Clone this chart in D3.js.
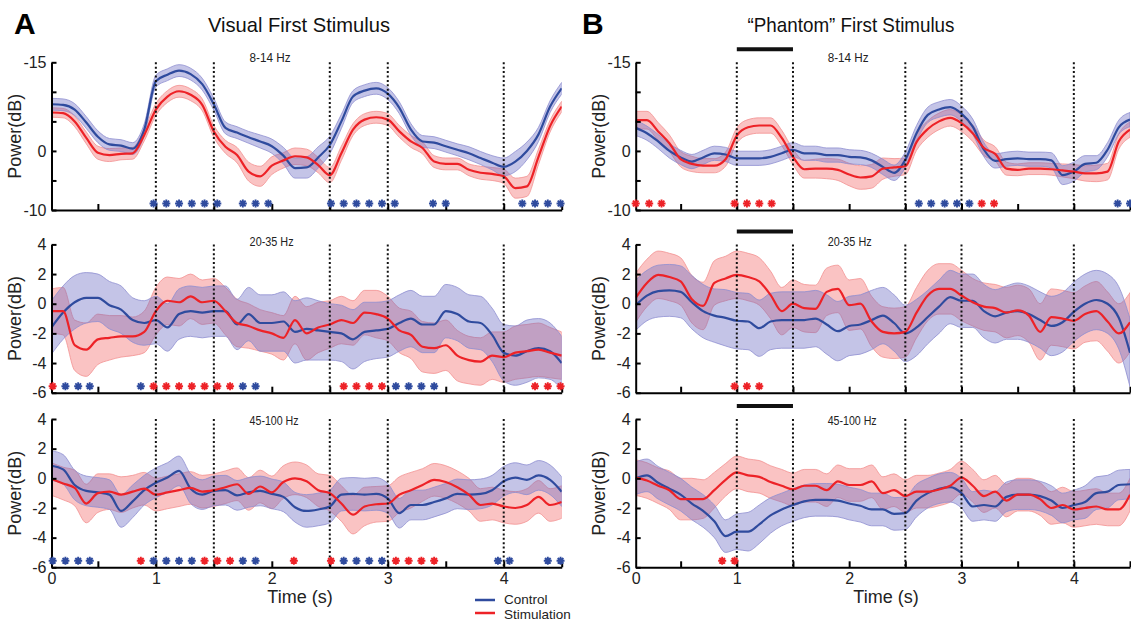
<!DOCTYPE html>
<html><head><meta charset="utf-8">
<script src="https://cdn.jsdelivr.net/npm/d3@7"></script>
<style>
body{margin:0;background:#fff;}
svg{display:block;font-family:"Liberation Sans",Arial,sans-serif;}
</style></head>
<body><svg id="chart" width="1131" height="621"></svg>
<script>
// ---------------- DATA ----------------
const time = [0.1,0.2,0.3,0.4,0.5,0.6,0.7,0.8,0.9,1.0,1.1,1.2,1.3,1.4,1.5,1.6,1.7,1.8,1.9,2.0,2.1,2.2,2.3,2.4,2.5,2.6,2.7,2.8,2.9,3.0,3.1,3.2,3.3,3.4,3.5,3.6,3.7,3.8,3.9,4.0,4.1,4.2,4.3,4.4,4.5];

// Panel A (Visual First Stimulus)
const A_alpha_ctrl = [7.9,7.8,7.0,4.8,2.4,1.1,0.9,0.4,3.6,11.8, 12.9,13.6,13.0,11.3,7.9,3.9,3.1,2.3,1.6,0.8, -0.8,-2.9,-2.8,-1.1,1.0,5.0,9.2,10.2,10.6,9.7, 7.3,3.6,1.6,1.4,0.8,0.2,-0.4,-1.2,-2.0,-2.7, -1.8,0.0,2.8,7.5,10.6];
const A_alpha_ctrlErr = [1.0,1.0,1.0,1.0,1.0,1.0,1.0,1.0,1.0,1.0, 1.0,1.0,1.0,1.0,1.0,1.0,1.0,1.0,1.1,1.2, 1.4,1.7,1.8,1.8,1.5,1.2,1.0,1.0,1.0,1.0, 1.0,1.0,1.0,1.0,1.0,1.0,1.1,1.1,1.2,1.5, 1.7,1.5,1.2,1.0,1.0];
const A_alpha_stim = [6.5,6.4,5.0,2.2,-0.3,-0.7,-0.5,-0.4,2.7,7.0, 9.2,10.1,9.5,7.8,3.3,0.7,-0.7,-3.5,-4.3,-2.5, -1.6,-0.9,-1.1,-2.4,-4.1,-0.4,3.6,5.3,5.7,5.3, 3.3,1.6,0.5,-1.8,-2.2,-2.2,-3.2,-3.7,-3.9,-4.3, -6.3,-6.0,-1.0,4.2,7.5];
const A_alpha_stimErr = [0.8,0.8,0.9,1.0,1.1,1.1,1.0,1.0,1.0,1.0, 1.0,1.0,1.0,1.0,1.0,1.1,1.3,1.6,1.7,1.5, 1.3,1.4,1.4,1.3,1.3,1.2,1.0,1.0,1.0,1.0, 1.0,1.0,1.0,1.0,1.0,1.0,1.0,1.1,1.1,1.2, 1.7,1.7,1.3,1.0,0.9];

const A_beta_ctrl = [-1.6,-0.6,0.1,0.4,0.4,-0.1,-0.4,-1.1,-1.3,-1.1, -1.6,-0.7,-0.5,-0.6,-0.5,-0.5,-1.4,-0.7,-1.3,-1.3, -1.2,-1.9,-1.7,-1.8,-1.9,-2.0,-2.4,-1.9,-1.8,-1.7, -1.3,-1.0,-1.4,-1.4,-0.5,-0.7,-1.2,-1.3,-2.1,-3.3, -3.5,-3.2,-3.0,-3.2,-4.0];
const A_beta_ctrlErr = [1.8,1.8,1.8,1.7,1.6,1.6,1.6,1.5,1.5,1.6, 1.6,1.7,1.7,1.7,1.7,1.7,1.7,1.8,1.9,1.9, 2.0,2.1,2.1,2.0,1.9,1.9,2.0,2.0,1.9,1.9, 1.9,1.9,1.9,1.9,1.8,1.8,1.8,1.8,1.8,1.9, 2.0,2.1,2.0,1.9,1.8];
const A_beta_stim = [-0.5,-0.5,-2.8,-3.1,-2.4,-2.3,-2.2,-2.2,-1.9,-0.5, 0.2,0.1,0.5,0.1,0.2,-0.5,-1.3,-1.5,-1.8,-2.0, -2.3,-1.1,-2.0,-1.6,-1.4,-1.1,-1.3,-0.6,-0.7,-1.0, -1.8,-2.1,-2.9,-3.0,-2.8,-3.5,-3.8,-3.9,-3.5,-3.6, -3.3,-3.2,-3.1,-3.3,-3.5];
const A_beta_stimErr = [1.5,1.6,1.7,1.8,1.7,1.5,1.4,1.3,1.4,1.6, 1.6,1.6,1.5,1.5,1.5,1.6,1.6,1.5,1.4,1.4, 1.5,1.6,1.8,1.7,1.6,1.6,1.5,1.5,1.6,1.5, 1.5,1.6,1.7,1.7,1.7,1.7,1.6,1.6,1.6,1.7, 1.8,1.8,1.8,1.7,1.6];

const A_gamma_ctrl = [0.85,0.6,-0.45,-0.85,-0.95,-1.1,-2.2,-1.55,-0.8,-0.3, 0.05,0.5,-0.7,-1.1,-0.85,-0.8,-1.15,-0.95,-0.85,-1.05, -1.25,-1.95,-2.2,-2.1,-1.9,-1.1,-1.05,-1.1,-1.05,-1.35, -2.35,-1.8,-1.8,-1.6,-1.35,-1.05,-1.1,-1.05,-0.8,-0.2, 0.05,-0.1,0.2,-0.1,-0.9];
const A_gamma_ctrlErr = [1.0,1.0,1.0,1.0,1.0,1.0,1.1,1.1,1.0,1.0, 1.0,1.0,1.0,1.0,1.0,1.0,1.0,1.0,1.0,1.0, 1.0,1.0,1.1,1.1,1.1,1.1,1.1,1.1,1.1,1.0, 1.0,1.0,1.0,1.0,1.0,1.0,1.0,1.0,1.0,1.0, 1.0,1.0,1.0,1.0,1.0];
const A_gamma_stim = [-0.05,-0.35,-0.65,-1.7,-1.0,-0.9,-1.1,-0.9,-0.7,-1.1, -0.95,-0.8,-0.65,-0.9,-0.8,-0.6,-0.4,-1.05,-0.55,-0.95, -0.25,0.0,-0.2,-0.8,-1.0,-1.7,-2.45,-1.9,-1.75,-1.7, -1.1,-0.8,-0.45,-0.1,-0.25,-0.6,-1.1,-1.8,-1.7,-1.9, -2.0,-1.8,-1.25,-1.8,-1.6];
const A_gamma_stimErr = [1.1,1.1,1.2,1.3,1.3,1.2,1.2,1.1,1.1,1.1, 1.1,1.1,1.1,1.1,1.1,1.1,1.1,1.1,1.1,1.1, 1.1,1.1,1.1,1.1,1.2,1.2,1.3,1.3,1.2,1.2, 1.2,1.2,1.1,1.1,1.1,1.1,1.1,1.1,1.1,1.1, 1.1,1.1,1.1,1.1,1.1];

// Panel B ("Phantom" First Stimulus)
const B_alpha_ctrl = [3.9,3.0,1.6,0.0,-1.1,-1.8,-1.1,-0.4,-0.6,-1.25, -1.25,-1.25,-1.0,-0.4,0.2,-0.4,-0.4,-0.7,-0.7,-1.0, -1.1,-1.6,-2.7,-3.7,-1.5,3.0,6.1,7.0,7.4,6.3, 4.1,0.2,-1.7,-1.4,-1.25,-1.4,-1.4,-1.6,-4.1,-3.5, -2.2,-2.0,0.2,4.0,5.3];
const B_alpha_ctrlErr = [1.3,1.2,1.2,1.2,1.2,1.2,1.2,1.2,1.2,1.2, 1.2,1.2,1.2,1.2,1.2,1.2,1.2,1.2,1.2,1.2, 1.2,1.2,1.3,1.3,1.3,1.3,1.3,1.3,1.3,1.3, 1.3,1.2,1.2,1.2,1.2,1.2,1.2,1.3,1.6,1.6, 1.4,1.2,1.2,1.2,1.2];
const B_alpha_stim = [5.2,5.2,3.3,1.3,-1.4,-2.2,-2.5,-2.5,-1.4,2.6, 4.0,4.3,4.3,2.2,-1.0,-3.1,-3.0,-3.0,-3.2,-4.0, -4.5,-4.3,-3.0,-2.8,-2.6,1.5,3.7,5.0,5.6,4.7, 3.0,0.5,-0.5,-3.0,-3.2,-3.0,-3.0,-3.1,-3.3,-3.5, -3.8,-3.8,-3.5,1.6,3.6];
const B_alpha_stimErr = [1.5,1.5,1.5,1.4,1.3,1.3,1.2,1.2,1.2,1.3, 1.3,1.3,1.3,1.3,1.3,1.5,1.6,1.7,1.8,1.9, 2.0,2.0,1.8,1.5,1.4,1.4,1.4,1.4,1.4,1.4, 1.4,1.3,1.2,1.1,1.0,1.0,1.0,1.0,1.1,1.2, 1.3,1.4,1.4,1.3,1.3];

const B_beta_ctrl = [-0.1,0.55,0.85,0.9,0.8,0.1,-0.5,-0.8,-0.95,-1.15, -1.2,-1.65,-1.2,-1.1,-1.1,-1.1,-1.0,-1.4,-1.85,-1.5, -1.4,-1.1,-0.8,-1.3,-2.0,-1.6,-0.9,-0.2,0.45,0.2, 0.2,-0.5,-0.85,-0.6,-0.5,-0.7,-1.1,-1.5,-1.25,-0.55, 0.0,0.25,0.0,-0.95,-3.3];
const B_beta_ctrlErr = [1.7,1.7,1.75,1.75,1.75,1.8,1.8,1.8,1.9,1.9, 1.9,1.9,1.9,1.9,1.9,1.9,1.9,2.0,2.0,2.0, 2.0,2.0,1.9,1.9,1.9,1.9,1.8,1.8,1.8,1.8, 1.8,1.8,1.8,1.8,1.9,1.9,1.9,2.0,2.0,2.0, 2.0,2.0,2.0,2.1,2.3];
const B_beta_stim = [0.4,1.4,1.95,1.8,1.5,0.3,-0.15,1.4,1.7,1.95, 1.8,1.5,0.6,-0.5,0.0,-0.3,-0.35,0.8,1.0,-0.1, 0.0,-1.2,-1.9,-2.0,-1.9,-0.6,0.55,1.0,1.0,0.55, 0.1,-0.2,-0.3,-0.6,-0.45,-0.8,-1.9,-0.9,-1.0,-1.15, -0.7,-0.5,-1.2,-2.0,-1.25];
const B_beta_stimErr = [1.65,1.6,1.6,1.6,1.6,1.6,1.6,1.5,1.5,1.6, 1.6,1.6,1.6,1.6,1.6,1.6,1.6,1.6,1.6,1.7, 1.7,1.7,1.7,1.7,1.7,1.7,1.7,1.7,1.7,1.7, 1.6,1.6,1.6,1.7,1.7,1.8,1.9,1.9,1.9,1.9, 1.9,2.0,2.0,2.0,2.0];

const B_gamma_ctrl = [0.0,0.2,-0.3,-0.7,-1.1,-1.7,-2.2,-2.9,-3.9,-3.6, -3.6,-3.1,-2.5,-2.1,-1.8,-1.55,-1.45,-1.45,-1.5,-1.7, -1.85,-2.1,-2.1,-2.4,-2.35,-1.5,-1.0,-0.7,-0.6,-1.0, -1.9,-1.8,-1.9,-1.25,-1.1,-1.1,-1.2,-1.5,-2.0,-1.8, -1.6,-1.0,-0.9,-0.45,-0.4];
const B_gamma_ctrlErr = [1.1,1.1,1.1,1.1,1.1,1.1,1.1,1.1,1.1,1.2, 1.3,1.3,1.2,1.1,1.1,1.1,1.1,1.1,1.1,1.1, 1.1,1.1,1.1,1.1,1.1,1.1,1.0,1.0,1.0,1.0, 1.0,1.0,1.0,1.0,1.0,1.0,1.0,1.0,1.0,1.0, 1.1,1.1,1.1,1.0,1.0];
const B_gamma_stim = [0.05,-0.15,-0.5,-0.8,-1.4,-1.4,-1.4,-0.8,-0.1,0.4, 0.2,0.1,-0.25,-0.5,-0.75,-0.5,-0.5,-0.8,-0.2,-0.45, -0.45,-0.2,-1.0,-0.8,-1.2,-0.9,-0.9,-0.75,-0.5,0.05, -0.5,-1.2,-0.9,-1.5,-1.1,-1.1,-1.4,-2.0,-1.8,-2.1, -2.0,-1.9,-2.1,-2.1,-1.1];
const B_gamma_stimErr = [1.2,1.2,1.2,1.3,1.4,1.4,1.3,1.2,1.1,1.1, 1.1,1.1,1.1,1.1,1.1,1.1,1.1,1.1,1.1,1.1, 1.1,1.1,1.1,1.1,1.1,1.1,1.1,1.1,1.1,1.1, 1.1,1.1,1.1,1.1,1.1,1.1,1.1,1.1,1.2,1.2, 1.2,1.2,1.1,1.1,1.1];

// significance markers (time of each asterisk), blue = control, red = stimulation
const A_alpha_starsBlue = [0.98,1.09,1.2,1.31,1.42,1.53,1.75,1.86,1.97,2.51,2.62,2.73,2.84,2.95,3.06,3.39,3.5,4.16,4.27,4.38,4.49];
const A_alpha_starsRed = [];
const A_beta_starsBlue = [0.22,0.33,0.43,0.87,1.75,1.86,3.07,3.18,3.29,3.4];
const A_beta_starsRed = [0.11,0.98,1.09,1.2,1.31,1.42,1.53,1.64,2.62,2.73,2.84,2.95,4.27,4.38,4.49];
const A_gamma_starsBlue = [0.11,0.22,0.33,0.43,0.98,1.09,1.2,1.31,1.75,1.86,2.62,2.73,2.84,2.95,3.95,4.05,4.38,4.49];
const A_gamma_starsRed = [0.87,1.42,1.53,1.64,2.19,2.51,3.07,3.18,3.29,3.4];
const B_alpha_starsBlue = [2.62,2.73,2.85,2.96,3.07,4.39,4.5];
const B_alpha_starsRed = [0.1,0.22,0.33,0.98,1.09,1.2,1.31,3.18,3.29];
const B_beta_starsBlue = [];
const B_beta_starsRed = [0.98,1.09,1.2];
const B_gamma_starsBlue = [];
const B_gamma_starsRed = [0.87,0.98];

// axes
const timeDomain = [0.1, 4.5];
const timeTicks = [0.5,1,1.5,2,2.5,3,3.5,4,4.5];
const timeLabelValues = [0,1,2,3,4];
const timeLabels = ["0","1","2","3","4"];
const eventTimes = [1,1.5,2.5,3,4];
const phantomSpan = [1,1.5];
const alphaDomain = [-10,15];
const alphaTicks = [15,10,5,0,-5,-10];
const alphaTickLabels = ["-15","","","0","","-10"];
const gammaDomain = [-6,4];
const gammaTicks = [4,2,0,-2,-4,-6];
const gammaTickLabels = ["4","2","0","-2","-4","-6"];
const bandNames = ["8-14 Hz","20-35 Hz","45-100 Hz"];
const titles = ["Visual First Stimulus","\u201CPhantom\u201D First Stimulus"];
const letters = ["A","B"];
const legendLabels = ["Control","Stimulation"];

// ---------------- STYLE / LAYOUT ----------------
const C = {
  blue:"#2f4b9e", red:"#ed2227",
  blueFill:"#6b6bc2", redFill:"#f25a5a",
  blueEdge:"#8e8ed0", redEdge:"#f39090"
};
const cols = [{x0:51.5,x1:561.7},{x0:635.7,x1:1130}];
const rows = [{top:62.3,bot:210},{top:244.4,bot:392.7},{top:419,bot:567.3}];
const labelDy = [-4,-2,3];

const svg = d3.select("#chart");
const defs = svg.append("defs");

const panelData = [
  [
    {ctrl:A_alpha_ctrl,ce:A_alpha_ctrlErr,stim:A_alpha_stim,se:A_alpha_stimErr,sb:A_alpha_starsBlue,sr:A_alpha_starsRed},
    {ctrl:A_beta_ctrl,ce:A_beta_ctrlErr,stim:A_beta_stim,se:A_beta_stimErr,sb:A_beta_starsBlue,sr:A_beta_starsRed},
    {ctrl:A_gamma_ctrl,ce:A_gamma_ctrlErr,stim:A_gamma_stim,se:A_gamma_stimErr,sb:A_gamma_starsBlue,sr:A_gamma_starsRed}
  ],
  [
    {ctrl:B_alpha_ctrl,ce:B_alpha_ctrlErr,stim:B_alpha_stim,se:B_alpha_stimErr,sb:B_alpha_starsBlue,sr:B_alpha_starsRed},
    {ctrl:B_beta_ctrl,ce:B_beta_ctrlErr,stim:B_beta_stim,se:B_beta_stimErr,sb:B_beta_starsBlue,sr:B_beta_starsRed},
    {ctrl:B_gamma_ctrl,ce:B_gamma_ctrlErr,stim:B_gamma_stim,se:B_gamma_stimErr,sb:B_gamma_starsBlue,sr:B_gamma_starsRed}
  ]
];

function starPath(r){
  const a = r*0.7071;
  return `M0,${-r}V${r}M${-r},0H${r}M${-a},${-a}L${a},${a}M${-a},${a}L${a},${-a}`;
}

cols.forEach((col, ci) => {
  // letter and title
  svg.append("text").attr("x", ci===0?14:582).attr("y", 34)
    .attr("font-size", 30).attr("font-weight", "bold").attr("fill","#000").text(letters[ci]);
  const tCenter = ci===0 ? 299 : 851;
  const tLen = ci===0 ? 182 : 207;
  svg.append("text").attr("x", tCenter).attr("y", 32).attr("text-anchor","middle")
    .attr("font-size", 21).attr("textLength", tLen).attr("lengthAdjust","spacingAndGlyphs")
    .attr("fill","#111").text(titles[ci]);

  rows.forEach((row, ri) => {
    const d = panelData[ci][ri];
    const x = d3.scaleLinear().domain(timeDomain).range([col.x0, col.x1]).clamp(true);
    const y = d3.scaleLinear().domain(ri===0?alphaDomain:gammaDomain).range([row.bot, row.top]);
    const g = svg.append("g");
    const clipId = `clip${ci}${ri}`;
    defs.append("clipPath").attr("id", clipId).append("rect")
      .attr("x", col.x0).attr("y", row.top).attr("width", col.x1-col.x0).attr("height", row.bot-row.top);
    const plot = g.append("g").attr("clip-path", `url(#${clipId})`);

    const area = (m, e) => d3.area().curve(d3.curveMonotoneX)
      .x((v,i)=>x(time[i])).y0((v,i)=>y(m[i]-e[i])).y1((v,i)=>y(m[i]+e[i]));
    const line = d3.line().curve(d3.curveMonotoneX).x((v,i)=>x(time[i])).y(v=>y(v));

    plot.append("path").datum(d.stim).attr("d", area(d.stim,d.se))
      .attr("fill", C.redFill).attr("fill-opacity",0.36)
      .attr("stroke", C.redEdge).attr("stroke-width",0.8);
    plot.append("path").datum(d.ctrl).attr("d", area(d.ctrl,d.ce))
      .attr("fill", C.blueFill).attr("fill-opacity",0.4)
      .attr("stroke", C.blueEdge).attr("stroke-width",0.8);
    plot.append("path").datum(d.ctrl).attr("d", line)
      .attr("fill","none").attr("stroke",C.blue).attr("stroke-width",2.2);
    plot.append("path").datum(d.stim).attr("d", line)
      .attr("fill","none").attr("stroke",C.red).attr("stroke-width",2.2);

    // event lines
    g.selectAll(".ev").data(eventTimes).enter().append("line")
      .attr("x1", t=>x(t)).attr("x2", t=>x(t))
      .attr("y1", row.top).attr("y2", row.bot)
      .attr("stroke","#111").attr("stroke-width",2).attr("stroke-dasharray","2,2.4");

    // phantom bar
    if (ci===1) {
      g.append("line").attr("x1", x(phantomSpan[0])).attr("x2", x(phantomSpan[1]))
        .attr("y1", row.top-13).attr("y2", row.top-13)
        .attr("stroke","#111").attr("stroke-width",4);
    }

    // axes
    const yAxis = d3.axisLeft(y).tickValues(ri===0?alphaTicks:gammaTicks)
      .tickFormat((v,i)=> (ri===0?alphaTickLabels:gammaTickLabels)[i])
      .tickSize(-5).tickSizeOuter(0).tickPadding(5);
    const ya = g.append("g").attr("transform",`translate(${col.x0},0)`).call(yAxis);
    ya.selectAll("text").attr("font-size",16).attr("fill","#222").attr("font-family","'Liberation Sans',Arial,sans-serif");
    ya.selectAll("line").attr("stroke","#000").attr("stroke-width",2);
    ya.select(".domain").attr("stroke","#000").attr("stroke-width",2);

    const xAxis = d3.axisBottom(x).tickValues(timeTicks).tickFormat("").tickSize(-6).tickSizeOuter(0);
    const xa = g.append("g").attr("transform",`translate(0,${row.bot})`).call(xAxis);
    xa.selectAll("line").attr("stroke","#000").attr("stroke-width",2);
    xa.select(".domain").attr("stroke","#000").attr("stroke-width",2);

    if (ri===2) {
      const xl = d3.axisBottom(x).tickValues(timeLabelValues)
        .tickFormat((v,i)=>timeLabels[i]).tickSize(0).tickPadding(5);
      const xla = g.append("g").attr("transform",`translate(0,${row.bot})`).call(xl);
      xla.select(".domain").remove();
      xla.selectAll("text").attr("font-size",16).attr("fill","#222").attr("font-family","'Liberation Sans',Arial,sans-serif");
      g.append("text").attr("x", ci===0?300:886).attr("y", row.bot+36)
        .attr("text-anchor","middle").attr("font-size",18).attr("fill","#222").text("Time (s)");
    }

    // y label
    g.append("text")
      .attr("transform",`translate(${col.x0-31},${(row.top+row.bot)/2}) rotate(-90)`)
      .attr("text-anchor","middle").attr("font-size",18).attr("fill","#222").text("Power(dB)");

    // band label
    const bx = x(1.8) + 1;
    g.append("text").attr("x", bx).attr("y", row.top+labelDy[ri])
      .attr("dominant-baseline","middle").attr("font-size",12.5).attr("fill","#222")
      .attr("textLength", [41,44,49][ri]).attr("lengthAdjust","spacingAndGlyphs")
      .text(bandNames[ri]);

    // stars
    const sy = row.bot - 6.5;
    [[d.sb, C.blue],[d.sr, C.red]].forEach(([arr, col2]) => {
      g.selectAll(null).data(arr).enter().append("path")
        .attr("transform", t=>`translate(${x(t)},${sy})`)
        .attr("d", starPath(4)).attr("stroke", col2).attr("stroke-width",1.9).attr("fill","none");
    });
  });
});

// legend
const leg = svg.append("g");
[C.blue, C.red].forEach((c,i) => {
  leg.append("line").attr("x1",475).attr("x2",495).attr("y1",600+i*13).attr("y2",600+i*13)
    .attr("stroke",c).attr("stroke-width",2.5);
  leg.append("text").attr("x",504).attr("y",604+i*14.5).attr("font-size",13.5).attr("fill","#222")
    .text(legendLabels[i]);
});
</script></body></html>
